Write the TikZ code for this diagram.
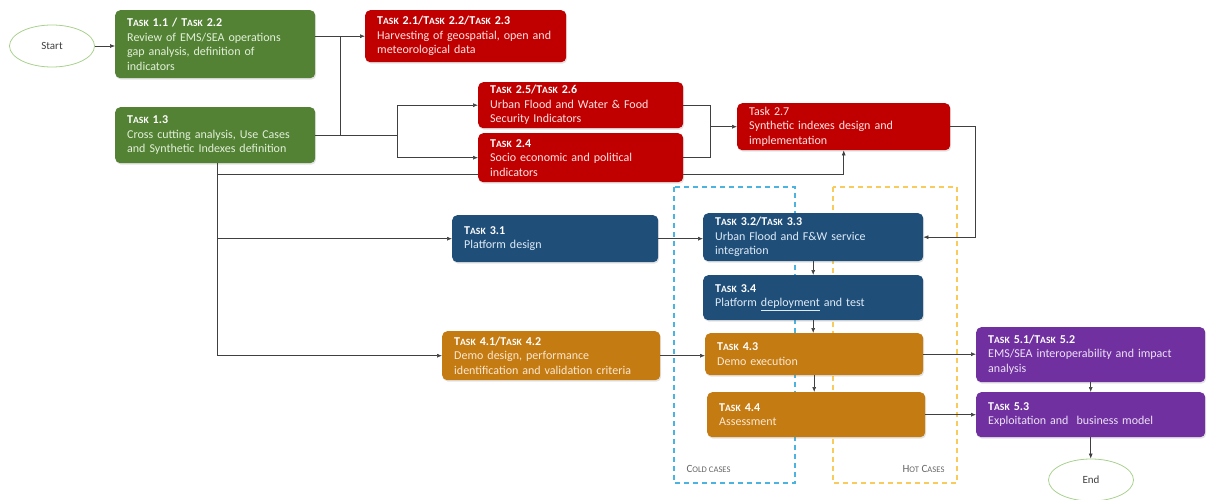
\documentclass[tikz,border=0pt]{standalone}
\usepackage{fontspec}
\setmainfont{Carlito}
\usetikzlibrary{shapes.geometric,arrows.meta,shadows,backgrounds}
\definecolor{cgreen}{HTML}{548235}
\definecolor{cred}{HTML}{C00000}
\definecolor{cblue}{HTML}{1F4E79}
\definecolor{corange}{HTML}{C47B12}
\definecolor{cpurple}{HTML}{7030A0}
\definecolor{gtext}{HTML}{E2F0D9}
\definecolor{rtext}{HTML}{FFE3E3}
\definecolor{btext}{HTML}{DEEBF7}
\definecolor{otext}{HTML}{FBE8D2}
\definecolor{ptext}{HTML}{EDE1F7}
\definecolor{lineg}{HTML}{404040}
\definecolor{ellg}{HTML}{A9D18E}
\definecolor{coldc}{HTML}{4BB3E0}
\definecolor{hotc}{HTML}{F9CB5C}
\newcommand\tk{T{\fontsize{9.6}{11}\selectfont ASK}}
\newcommand\ttl[1]{{\color{white}\bfseries #1}}
\tikzset{
  box/.style={rounded corners=5pt, anchor=north west, align=left, inner xsep=12pt, inner ysep=2pt,
    font=\fontsize{12}{14.5}\selectfont,
    drop shadow={opacity=0.22, shadow xshift=1pt, shadow yshift=-1.5pt}},
  gbox/.style={box, fill=cgreen, text=gtext},
  rbox/.style={box, fill=cred, text=rtext},
  bbox/.style={box, fill=cblue, text=btext},
  obox/.style={box, fill=corange, text=otext},
  pbox/.style={box, fill=cpurple, text=ptext},
  oval/.style={ellipse, draw=ellg, line width=0.8pt, minimum width=85pt, minimum height=42pt,
    text=lineg, font=\fontsize{11}{13}\selectfont},
  arr/.style={draw=lineg, line width=0.6pt, -{Latex[length=5pt,width=4pt]}},
  ln/.style={draw=lineg, line width=0.6pt},
  zone/.style={line width=1.3pt, dash pattern=on 5pt off 4pt},
  zlabel/.style={text=lineg!80, font=\fontsize{11}{12}\selectfont}
}
\begin{document}
\begin{tikzpicture}[x=1pt,y=-1pt]
\useasboundingbox (0,0) rectangle (1208,500);
% zones
\draw[zone, draw=coldc] (674,187) rectangle (795,483);
\draw[zone, draw=hotc] (833,187) rectangle (957,483);
\node[zlabel, anchor=west] (coldl) at (683,469) {C{\fontsize{8.6}{10}\selectfont OLD CASES}};
\node[zlabel, anchor=east] (hotl) at (948,469) {H{\fontsize{8.6}{10}\selectfont OT} C{\fontsize{8.6}{10}\selectfont ASES}};
% ellipses
\node[oval] (start) at (52,46) {Start};
\node[oval] (end) at (1091,480) {End};
% boxes
\node[gbox, minimum width=200pt, text width=176pt, minimum height=68pt] (t11) at (115,10)
  {\ttl{\tk\ 1.1 / \tk\ 2.2}\\Review of EMS/SEA operations\\gap analysis, definition of\\indicators};
\node[gbox, minimum width=200pt, text width=176pt, minimum height=56pt] (t13) at (115,107)
  {\ttl{\tk\ 1.3}\\Cross cutting analysis, Use Cases\\and Synthetic Indexes definition};
\node[rbox, minimum width=201pt, text width=177pt, minimum height=52pt] (t21) at (365,10)
  {\ttl{\tk\ 2.1/\tk\ 2.2/\tk\ 2.3}\\Harvesting of geospatial, open and\\meteorological data};
\node[rbox, minimum width=205pt, text width=181pt, minimum height=46pt] (t25) at (478,82)
  {\ttl{\tk\ 2.5/\tk\ 2.6}\\Urban Flood and Water \& Food\\Security Indicators};
\node[rbox, minimum width=205pt, text width=181pt, minimum height=49pt] (t24) at (478,133)
  {\ttl{\tk\ 2.4}\\Socio economic and political\\indicators};
\node[rbox, minimum width=213pt, text width=189pt, minimum height=47pt] (t27) at (737,103)
  {Task 2.7\\Synthetic indexes design and\\implementation};
\node[bbox, minimum width=206pt, text width=182pt, minimum height=47pt] (t31) at (452,215)
  {\ttl{\tk\ 3.1}\\Platform design};
\node[bbox, minimum width=220pt, text width=196pt, minimum height=48pt] (t32) at (703,213)
  {\ttl{\tk\ 3.2/\tk\ 3.3}\\Urban Flood and F\&W service\\integration};
\node[bbox, minimum width=220pt, text width=196pt, minimum height=45pt] (t34) at (703,275)
  {\ttl{\tk\ 3.4}\\Platform \underline{deployment} and test};
\node[obox, minimum width=218pt, text width=194pt, minimum height=49pt] (t41) at (442,331)
  {\ttl{\tk\ 4.1/\tk\ 4.2}\\Demo design, performance\\identification and validation criteria};
\node[obox, minimum width=218pt, text width=194pt, minimum height=42pt] (t43) at (705,333)
  {\ttl{\tk\ 4.3}\\Demo execution};
\node[obox, minimum width=218pt, text width=194pt, minimum height=45pt] (t44) at (707,392)
  {\ttl{\tk\ 4.4}\\Assessment};
\node[pbox, minimum width=229pt, text width=205pt, minimum height=55pt] (t51) at (976,327)
  {\ttl{\tk\ 5.1/\tk\ 5.2}\\EMS/SEA interoperability and impact\\analysis};
\node[pbox, minimum width=229pt, text width=205pt, minimum height=45pt] (t53) at (976,392)
  {\ttl{\tk\ 5.3}\\Exploitation and \ business model};
% junction columns
\coordinate (j1) at (340,0);
\coordinate (j2) at (397,0);
\coordinate (j3) at (710,0);
\coordinate (j4) at (217,0);
\coordinate (j5) at (975,0);
\coordinate (jy) at (0,174);
% connectors
\draw[arr] (start.east) -- (start.east -| t11.west);
\draw[arr] (t11.east |- t21.west) -- (t21.west);
\draw[ln] (j1 |- t21.west) -- (j1 |- t13.east);
\draw[ln] (t13.east) -- (j2 |- t13.east);
\draw[arr] (j2 |- t13.east) |- (t25.west);
\draw[arr] (j2 |- t13.east) |- (t24.west);
\draw[ln] (t25.east) -| (j3 |- t27.west);
\draw[ln] (t24.east) -| (j3 |- t27.west);
\draw[arr] (j3 |- t27.west) -- (t27.west);
\draw[ln] (j4 |- t13.south) -- (j4 |- t41.west);
\begin{scope}[on background layer]
\draw[arr] (j4 |- jy) -| (t27.south);
\end{scope}
\draw[arr] (j4 |- t31.west) -- (t31.west);
\draw[arr] (j4 |- t41.west) -- (t41.west);
\draw[arr] (t31.east) -- (t31.east -| t32.west);
\draw[arr] (t27.east) -| (j5 |- t32.east) -- (t32.east);
\draw[arr] (t32.south) -- (t34.north);
\draw[arr] (t34.south) -- (t34.south |- t43.north);
\draw[arr] (t43.south) -- (t43.south |- t44.north);
\draw[arr] (t41.east) -- (t41.east -| t43.west);
\draw[arr] (t43.east) -- (t43.east -| t51.west);
\draw[arr] (t44.east) -- (t44.east -| t53.west);
\draw[arr] (t51.south) -- (t51.south |- t53.north);
\draw[arr] (t53.south) -- (t53.south |- end.north);
\end{tikzpicture}
\end{document}
